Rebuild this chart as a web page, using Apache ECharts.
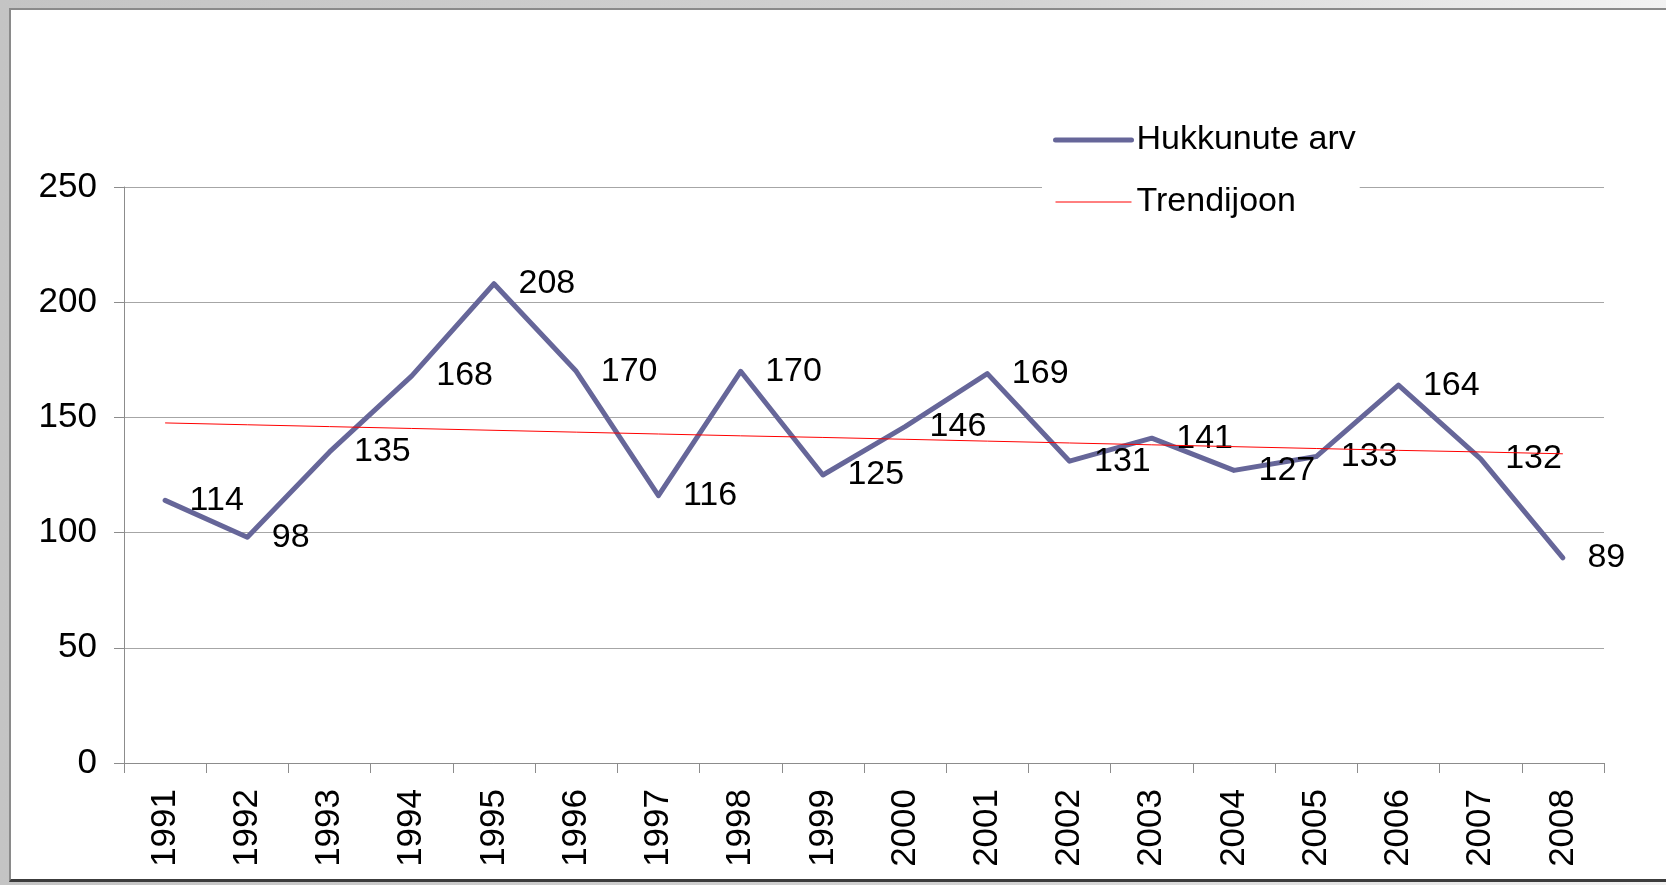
<!DOCTYPE html>
<html>
<head>
<meta charset="utf-8">
<title>Hukkunute arv</title>
<script src="https://cdn.jsdelivr.net/npm/echarts@6/dist/echarts.min.js"></script>
<style>
    html, body { margin: 0; padding: 0; width: 1666px; height: 885px; overflow: hidden; }
    body { background: linear-gradient(to right, #c4c4c4 0%, #d2d2d2 60%, #f2f2f2 100%); position: relative; }
    #frame {
        position: absolute; left: 9px; top: 8px; width: 1657px; height: 874px;
        background: #ffffff; box-sizing: border-box;
        border-left: 2px solid #8a8a8a; border-top: 2px solid #8a8a8a; border-bottom: 3px solid #3c3c3c;
    }
    #chart { position: absolute; left: 0; top: 0; width: 1666px; height: 885px; }
</style>
</head>
<body>
<div id="frame"></div>
<div id="chart"></div>
<script>
// years on the x axis
let years = ['1991', '1992', '1993', '1994', '1995', '1996', '1997', '1998', '1999',
    '2000', '2001', '2002', '2003', '2004', '2005', '2006', '2007', '2008'];
// Hukkunute arv
let drowned = [114, 98, 135, 168, 208, 170, 116, 170, 125, 146, 169, 131, 141, 127, 133, 164, 132, 89];
// Trendijoon
let trend = [147.6, 146.8, 146.0, 145.2, 144.4, 143.6, 142.8, 142.0, 141.3,
    140.5, 139.7, 138.9, 138.1, 137.3, 136.5, 135.7, 135.0, 134.2];
// y axis ticks
let yTicks = [0, 50, 100, 150, 200, 250];

let fontFamily = '"Liberation Sans", Arial, sans-serif';
let fontSize = 35;

let myChart = echarts.init(document.getElementById('chart'));
let option = {
    backgroundColor: 'transparent',
    animation: false,
    grid: {
        left: 124,
        right: 62,
        top: 187,
        bottom: 122
    },
    legend: {
        orient: 'vertical',
        left: 1042,
        top: 119,
        padding: [4, 4, 4, 11],
        itemWidth: 76,
        itemHeight: 14,
        itemGap: 28,
        backgroundColor: '#ffffff',
        textStyle: {
            fontFamily: fontFamily,
            fontSize: 34,
            color: '#000000'
        },
        data: [
            { name: 'Hukkunute arv', itemStyle: { opacity: 0 }, lineStyle: { width: 5, color: '#666699', cap: 'round' } },
            { name: 'Trendijoon', itemStyle: { opacity: 0 }, lineStyle: { width: 1, color: '#ff0000' } }
        ]
    },
    xAxis: {
        type: 'category',
        data: years,
        boundaryGap: true,
        axisLine: { lineStyle: { color: '#8c8c8c', width: 1 } },
        axisTick: { show: true, length: 10, lineStyle: { color: '#8c8c8c' } },
        axisLabel: {
            rotate: 90,
            margin: 26,
            color: '#000000',
            fontFamily: fontFamily,
            fontSize: fontSize
        }
    },
    yAxis: {
        type: 'value',
        min: yTicks[0],
        max: yTicks[yTicks.length - 1],
        interval: yTicks[1] - yTicks[0],
        axisLine: { show: true, lineStyle: { color: '#8c8c8c', width: 1 } },
        axisTick: { show: true, length: 10, lineStyle: { color: '#8c8c8c' } },
        splitLine: { show: true, lineStyle: { color: '#a6a6a6', width: 1 } },
        axisLabel: {
            margin: 27,
            color: '#000000',
            fontFamily: fontFamily,
            fontSize: fontSize
        }
    },
    series: [
        {
            name: 'Hukkunute arv',
            type: 'line',
            data: drowned,
            symbol: 'circle',
            symbolSize: 3,
            showSymbol: true,
            showAllSymbol: true,
            z: 2,
            lineStyle: { color: '#666699', width: 5, cap: 'round', join: 'round' },
            itemStyle: { color: '#666699' },
            label: {
                show: true,
                position: 'right',
                distance: 23,
                color: '#000000',
                fontFamily: fontFamily,
                fontSize: 34
            }
        },
        {
            name: 'Trendijoon',
            type: 'line',
            data: trend,
            symbol: 'none',
            z: 3,
            lineStyle: { color: '#ff0000', width: 1 },
            itemStyle: { color: '#ff0000' }
        }
    ]
};
myChart.setOption(option);
</script>
</body>
</html>
